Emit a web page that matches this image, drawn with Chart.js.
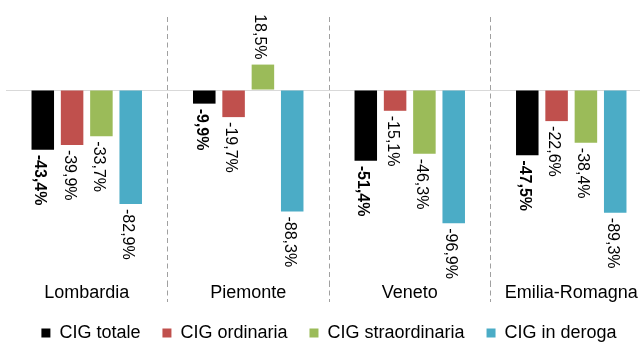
<!doctype html>
<html lang="it">
<head>
<meta charset="utf-8">
<title>CIG per regione</title>
<script src="https://cdn.jsdelivr.net/npm/chart.js@4.4.1/dist/chart.umd.min.js"></script>
<style>
  body { margin: 0; overflow: hidden; background: #fff; }
  /* il grafico è un po' più largo della finestra: l'ultima regione sborda a destra */
  #chartContainer { width: 660px; height: 352px; }
</style>
</head>
<body>
<div id="chartContainer"><canvas id="myChart"></canvas></div>
<script>
const regioni = ['Lombardia', 'Piemonte', 'Veneto', 'Emilia-Romagna'];
const serie = ['CIG totale', 'CIG ordinaria', 'CIG straordinaria', 'CIG in deroga'];

// variazioni percentuali per regione
const cigTotale = [-43.4, -9.9, -51.4, -47.5];
const cigOrdinaria = [-39.9, -19.7, -15.1, -22.6];
const cigStraordinaria = [-33.7, 18.5, -46.3, -38.4];
const cigDeroga = [-82.9, -88.3, -96.9, -89.3];

const colori = ['#000000', '#c0504d', '#9bbb59', '#4bacc6'];
const FONT = '"Liberation Sans", Arial, sans-serif';

// etichette ruotate sopra/sotto le barre
const etichetteValori = {
  id: 'etichetteValori',
  afterDatasetsDraw(chart) {
    const ctx = chart.ctx;
    chart.data.datasets.forEach((ds, i) => {
      const meta = chart.getDatasetMeta(i);
      meta.data.forEach((bar, j) => {
        const v = ds.data[j];
        const testo = v.toFixed(1).replace('.', ',') + '%';
        ctx.save();
        ctx.translate(bar.x - 3, bar.y);
        ctx.rotate(Math.PI / 2);
        ctx.font = (i === 0 ? 'bold ' : '') + '16px ' + FONT;
        ctx.fillStyle = '#000';
        ctx.textBaseline = 'middle';
        if (v < 0) {
          ctx.textAlign = 'left';
          ctx.fillText(testo, 5, 0);
        } else {
          ctx.textAlign = 'right';
          ctx.fillText(testo, -5, 0);
        }
        ctx.restore();
      });
    });
  }
};

const valori = [cigTotale, cigOrdinaria, cigStraordinaria, cigDeroga];

// separatori tratteggiati solo tra le regioni, non ai bordi
const coloreSeparatore = c => (c.type !== 'tick' || c.index === 0) ? 'rgba(0,0,0,0)' : '#a0a0a0';

new Chart(document.getElementById('myChart'), {
  type: 'bar',
  data: {
    labels: regioni,
    datasets: serie.map((nome, i) => ({
      label: nome,
      data: valori[i],
      backgroundColor: colori[i],
      borderWidth: 0,
      categoryPercentage: 0.726,
      barPercentage: 0.768
    }))
  },
  options: {
    responsive: true,
    maintainAspectRatio: false,
    animation: false,
    layout: { padding: { top: 17, left: 6, right: 8, bottom: 0 } },
    plugins: {
      tooltip: { enabled: false },
      legend: {
        position: 'bottom',
        labels: {
          boxWidth: 9,
          boxHeight: 9,
          padding: 22,
          color: '#000',
          font: { family: FONT, size: 18 }
        }
      }
    },
    scales: {
      x: {
        grid: {
          offset: true,
          lineWidth: 1,
          color: coloreSeparatore,
          // i separatori continuano accanto ai nomi delle regioni
          drawTicks: true,
          tickLength: 20,
          tickColor: coloreSeparatore,
          tickBorderDash: [5, 3.5]
        },
        border: { display: false, dash: [5, 3.5] },
        // nomi delle regioni affiancati ai separatori
        ticks: {
          padding: -20,
          color: '#000',
          font: { family: FONT, size: 18 }
        },
        // titolo vuoto: solo spazio tra asse e legenda
        title: {
          display: true,
          text: '',
          padding: 0,
          font: { size: 16, lineHeight: 1.15 }
        }
      },
      y: {
        min: -139.6,
        max: 53.1,
        afterBuildTicks: scale => { scale.ticks = [{ value: 0 }]; },
        grid: {
          drawTicks: false,
          color: '#d9d9d9'
        },
        border: { display: false },
        ticks: { display: false }
      }
    }
  },
  plugins: [etichetteValori]
});
</script>
</body>
</html>
